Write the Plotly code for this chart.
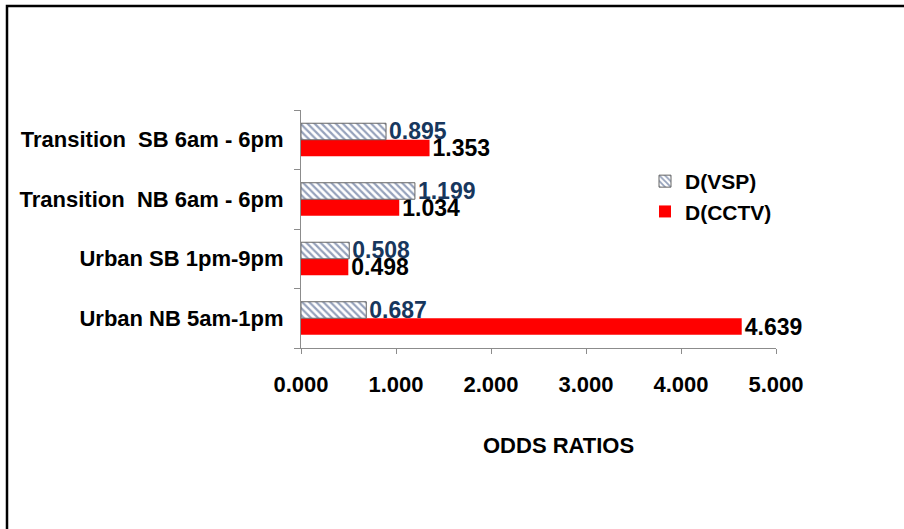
import plotly.graph_objects as go

# Odds ratios by corridor segment and time window
segments = [
    "Urban NB 5am-1pm",
    "Urban SB 1pm-9pm",
    "Transition  NB 6am - 6pm",
    "Transition  SB 6am - 6pm",
]
vsp = [0.687, 0.508, 1.199, 0.895]
cctv = [4.639, 0.498, 1.034, 1.353]
xticks = [0, 1, 2, 3, 4, 5]

FONT = "Liberation Sans, Arial, sans-serif"
W, H = 904, 529
ML, MR, MT, MB = 301, 128, 110, 181
PW, PH = W - ML - MR, H - MT - MB

def px_x(p):
    return (p - ML) / PW

def px_y(p):
    return (H - MB - p) / PH

labels = [s.replace("  ", "\u00a0 ") for s in segments]

fig = go.Figure()
fig.add_trace(go.Bar(
    y=labels, x=cctv, orientation="h", name="D(CCTV)",
    marker=dict(color="#FF0000", line=dict(width=0)),
    text=[f"{v:.3f}" for v in cctv], textposition="outside",
    textfont=dict(family=FONT, size=23, color="#000000", weight="bold"),
    cliponaxis=False, constraintext="none",
))
fig.add_trace(go.Bar(
    y=labels, x=vsp, orientation="h", name="D(VSP)",
    marker=dict(
        color="#FFFFFF",
        line=dict(width=1, color="#666666"),
        pattern=dict(shape="\\", fgcolor="#2C4478", bgcolor="#FFFFFF",
                     size=5, solidity=0.45),
    ),
    text=[f"{v:.3f}" for v in vsp], textposition="outside",
    textfont=dict(family=FONT, size=23, color="#17375E", weight="bold"),
    cliponaxis=False, constraintext="none",
))

fig.update_layout(
    width=W, height=H,
    margin=dict(l=ML, r=MR, t=MT, b=MB, pad=0),
    paper_bgcolor="#FFFFFF", plot_bgcolor="#FFFFFF",
    barmode="group", bargap=0.445, bargroupgap=0,
    font=dict(family=FONT, size=22, color="#000000", weight="bold"),
    showlegend=True,
    legend=dict(
        x=px_x(645), y=px_y(161), xanchor="left", yanchor="top",
        traceorder="reversed", bgcolor="rgba(0,0,0,0)",
        font=dict(family=FONT, size=21, color="#000000", weight="bold"),
        itemwidth=30, tracegroupgap=0,
    ),
    xaxis=dict(
        range=[0, 5], tickvals=xticks,
        ticktext=[f"{v:.3f}" for v in xticks],
        showgrid=False, zeroline=False, automargin=False,
        showline=True, linecolor="#8C8C8C", linewidth=1,
        ticks="outside", ticklen=5, tickcolor="#8C8C8C",
        ticklabelstandoff=12,
        tickfont=dict(family=FONT, size=22, color="#000000", weight="bold"),
    ),
    yaxis=dict(
        type="category", categoryorder="array", categoryarray=labels,
        showgrid=False, zeroline=False, automargin=False,
        showline=True, linecolor="#8C8C8C", linewidth=1,
        ticks="outside", ticklen=6, tickcolor="#8C8C8C",
        tickson="boundaries", ticklabelstandoff=12,
        tickfont=dict(family=FONT, size=22, color="#000000", weight="bold"),
    ),
)

# Axis title
fig.add_annotation(
    x=px_x(558), y=px_y(446), xref="paper", yref="paper",
    xanchor="center", yanchor="middle",
    text="ODDS RATIOS", showarrow=False,
    font=dict(family=FONT, size=22, color="#000000", weight="bold"),
)

# Outer frame
fig.add_shape(
    type="rect", xref="paper", yref="paper",
    x0=px_x(7), x1=px_x(915), y0=px_y(540), y1=px_y(6),
    line=dict(color="#000000", width=2.5), fillcolor="rgba(0,0,0,0)",
    layer="below",
)

fig.write_html("out.html")
